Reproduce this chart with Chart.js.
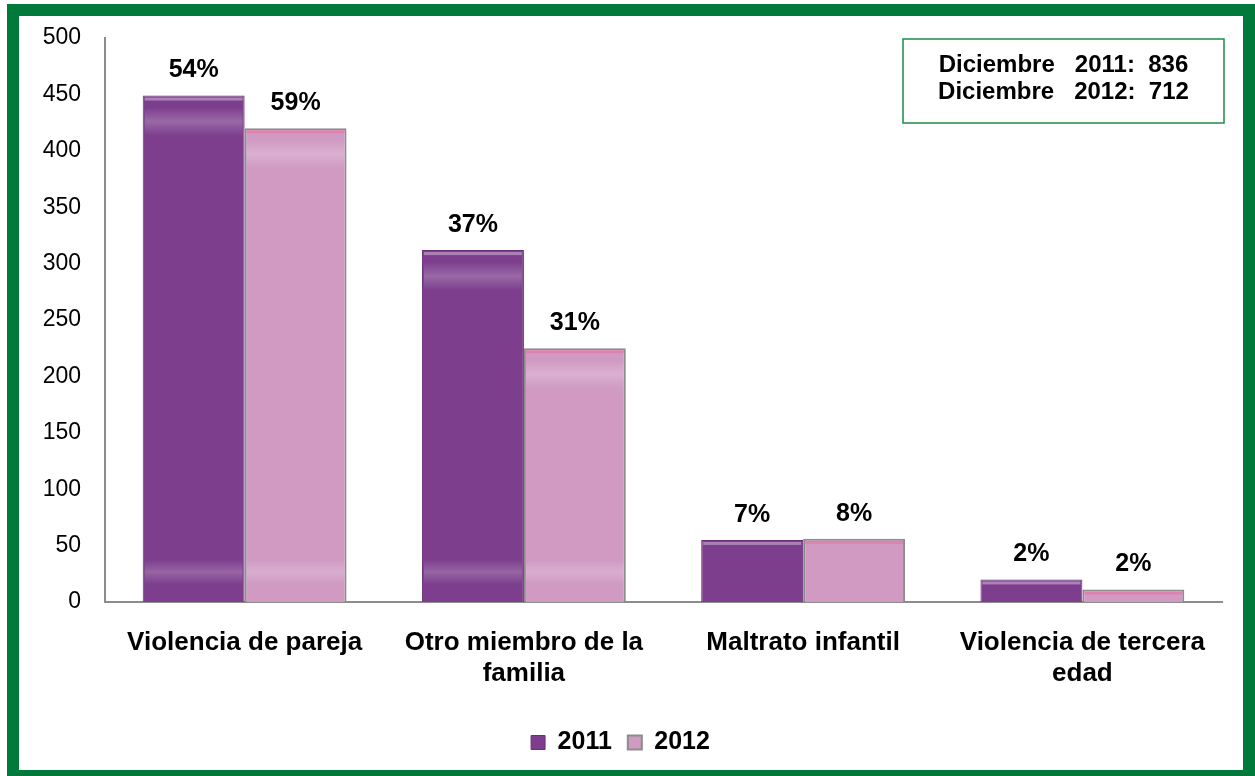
<!DOCTYPE html>
<html lang="es">
<head>
  <meta charset="UTF-8" />
  <title>Tipos de violencia 2011 - 2012</title>
  <script src="https://cdn.jsdelivr.net/npm/chart.js"></script>
  <style>
    html, body { margin: 0; padding: 0; background: #fff; overflow: hidden; }
    #frame {
      position: absolute; left: 7px; top: 4px;
      width: 1248px; height: 778px;
      box-sizing: border-box;
      border: 12px solid #007A3A;
      background: #fff;
    }
    #frame canvas { display: block; }
  </style>
</head>
<body>
  <div id="frame">
    <canvas id="chart" width="1224" height="754"></canvas>
  </div>

  <script>
    const categories = [
      'Violencia de pareja',
      ['Otro miembro de la', 'familia'],
      'Maltrato infantil',
      ['Violencia de tercera', 'edad']
    ];
    const values2011 = [449, 312, 55, 20];
    const values2012 = [420, 225, 56, 11];
    const pct2011 = ['54%', '37%', '7%', '2%'];
    const pct2012 = ['59%', '31%', '8%', '2%'];
    const totals = ['Diciembre   2011:  836', 'Diciembre   2012:  712'];
    const yTicks = [0, 50, 100, 150, 200, 250, 300, 350, 400, 450, 500];

    const font = 'Liberation Sans, Arial, sans-serif';

    // glossy light bands on the bars, like the original office chart
    const gloss = {
      id: 'gloss',
      afterDatasetsDraw(chart) {
        const ctx = chart.ctx;
        ctx.save();
        chart.data.datasets.forEach((ds, i) => {
          chart.getDatasetMeta(i).data.forEach(bar => {
            const x = bar.x - bar.width / 2 + 2;
            const w = bar.width - 4;
            const h = bar.base - bar.y;
            ctx.fillStyle = i === 0 ? 'rgba(255,255,255,0.35)' : 'rgba(235,110,160,0.55)';
            ctx.fillRect(x, bar.y + 2, w, 3);
            if (h > 100) {
              let g = ctx.createLinearGradient(0, bar.y + 12, 0, bar.y + 40);
              g.addColorStop(0, 'rgba(255,255,255,0)');
              g.addColorStop(0.5, 'rgba(255,255,255,0.22)');
              g.addColorStop(1, 'rgba(255,255,255,0)');
              ctx.fillStyle = g;
              ctx.fillRect(x, bar.y + 12, w, 28);
              g = ctx.createLinearGradient(0, bar.base - 42, 0, bar.base - 18);
              g.addColorStop(0, 'rgba(255,255,255,0)');
              g.addColorStop(0.5, 'rgba(255,255,255,0.2)');
              g.addColorStop(1, 'rgba(255,255,255,0)');
              ctx.fillStyle = g;
              ctx.fillRect(x, bar.base - 42, w, 24);
            }
          });
        });
        ctx.restore();
      }
    };

    // percentage labels above bars + the totals box in the corner
    const extras = {
      id: 'extras',
      afterDatasetsDraw(chart) {
        const ctx = chart.ctx;
        const labels = [pct2011, pct2012];
        ctx.save();
        ctx.fillStyle = '#000';
        ctx.font = 'bold 25px ' + font;
        ctx.textAlign = 'center';
        ctx.textBaseline = 'middle';
        chart.data.datasets.forEach((ds, i) => {
          chart.getDatasetMeta(i).data.forEach((bar, j) => {
            ctx.fillText(labels[i][j], bar.x, bar.y - 25);
          });
        });

        const area = chart.chartArea;
        const bw = 321, bh = 84;
        const bx = area.right + 2 - bw, by = area.top + 1;
        ctx.strokeStyle = '#1E8A45';
        ctx.lineWidth = 1.5;
        ctx.strokeRect(bx, by, bw, bh);
        ctx.font = 'bold 24px ' + font;
        ctx.fillText(totals[0], bx + bw / 2, by + 26);
        ctx.fillText(totals[1], bx + bw / 2, by + 53);
        ctx.restore();
      }
    };

    new Chart(document.getElementById('chart'), {
      type: 'bar',
      data: {
        labels: categories,
        datasets: [
          {
            label: '2011',
            data: values2011,
            backgroundColor: '#7D3F8D',
            borderColor: '#6A2E7B',
            borderWidth: 1,
            categoryPercentage: 0.73,
            barPercentage: 1.0
          },
          {
            label: '2012',
            data: values2012,
            backgroundColor: '#D09AC3',
            borderColor: '#8C8C8C',
            borderWidth: 2,
            categoryPercentage: 0.73,
            barPercentage: 1.0
          }
        ]
      },
      options: {
        responsive: false,
        animation: false,
        layout: { padding: { top: 22, right: 21, left: 0, bottom: 5 } },
        plugins: {
          tooltip: { enabled: false },
          legend: {
            position: 'bottom',
            labels: {
              color: '#000',
              font: { family: font, size: 25, weight: 'bold' },
              boxWidth: 14,
              boxHeight: 14,
              padding: 16
            }
          }
        },
        scales: {
          x: {
            grid: { display: false, drawTicks: false },
            border: { color: '#8C8C8C', width: 2 },
            ticks: {
              color: '#000',
              font: { family: font, size: 26, weight: 'bold' },
              padding: 25,
              maxRotation: 0
            },
            afterFit: s => { s.height = 112; }
          },
          y: {
            min: 0,
            max: 500,
            afterBuildTicks: s => { s.ticks = yTicks.map(v => ({ value: v })); },
            grid: { display: false, drawTicks: false },
            border: { color: '#8C8C8C', width: 2 },
            ticks: {
              color: '#000',
              font: { family: font, size: 23 },
              padding: 24
            },
            afterFit: s => {
              s.width = 86;
              s.paddingTop = 0;
              s.paddingBottom = 0;
            }
          }
        }
      },
      plugins: [gloss, extras]
    });
  </script>
</body>
</html>
